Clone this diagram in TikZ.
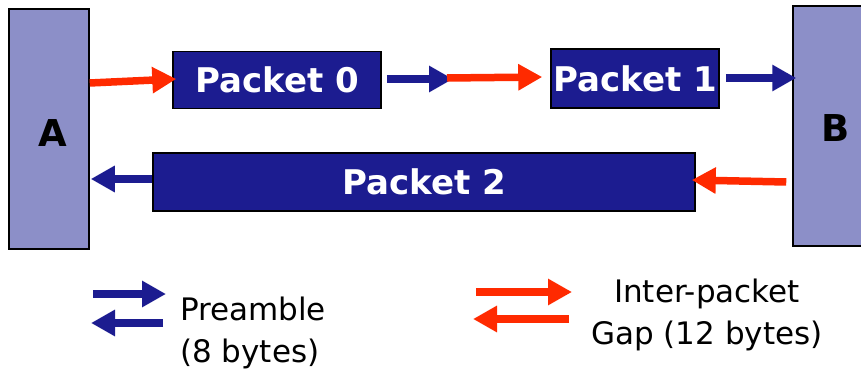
\documentclass[tikz,border=0pt]{standalone}
\usepackage{fontspec}
\setmainfont{DejaVu Sans}
\usetikzlibrary{arrows.meta}
\definecolor{hostfill}{HTML}{8C8FC8}
\definecolor{navy}{HTML}{1C1C90}
\definecolor{gapred}{HTML}{FF2A00}
\tikzset{
  hostbox/.style={draw=black, line width=1.5pt, fill=hostfill, inner sep=0pt},
  pktbox/.style={draw=black, line width=1.5pt, fill=navy, inner sep=0pt, text=white,
    font=\fontsize{34}{34}\selectfont\bfseries},
  hostlabel/.style={font=\fontsize{37}{37}\selectfont\bfseries, text=black},
  legendtext/.style={font=\fontsize{31}{42}\selectfont, text=black, inner sep=0pt},
  arr/.style={line width=7.5pt, -{Triangle[length=24pt,width=25pt]}},
  pre/.style={arr, draw=navy},
  gap/.style={arr, draw=gapred},
}
\begin{document}
\begin{tikzpicture}[x=1pt,y=-1pt]
\useasboundingbox (0,0) rectangle (861,379);
% hosts
\node[hostbox, minimum width=80pt, minimum height=240pt] (A) at (49,129) {};
\node[hostbox, minimum width=75pt, minimum height=240pt] (B) at (830.5,126) {};
\node[hostlabel] (Alab) at (53,133) {A};
\node[hostlabel] (Blab) at (836,128) {B};
% packets
\node[pktbox, minimum width=208pt, minimum height=57pt] (p0) at (277,80) {Packet 0};
\node[pktbox, minimum width=168pt, minimum height=59pt] (p1) at (635,78.5) {Packet 1};
\node[pktbox, minimum width=542pt, minimum height=58pt] (p2) at (424,182) {Packet 2};
% gap coordinates
\coordinate (g0) at (453,79);
\coordinate (g1) at (447,78);
% arrows, top row
\draw[gap] (A.east |- 0,83) -- ([xshift=4pt]p0.west |- 0,79);
\draw[pre] ([xshift=5pt]p0.east |- 0,79) -- (g0);
\draw[gap] (g1) -- ([xshift=-8pt]p1.west |- 0,77);
\draw[pre] ([xshift=6pt]p1.east |- 0,78) -- ([xshift=4pt]B.west |- 0,78);
% arrows, bottom row
\draw[pre] (p2.west |- 0,179) -- ([xshift=1pt]A.east |- 0,179);
\draw[gap] ([xshift=-6pt]B.west |- 0,182) -- ([xshift=-4pt]p2.east |- 0,180);
% legend
\coordinate (lb1s) at (93,294);
\coordinate (lb1e) at (166,294);
\coordinate (lb2s) at (163,323);
\coordinate (lb2e) at (91,323);
\draw[pre] (lb1s) -- (lb1e);
\draw[pre] (lb2s) -- (lb2e);
\node[legendtext, anchor=west, align=left] (pretext) at (180,333) {Preamble\\(8 bytes)};
\coordinate (lr1s) at (476,292);
\coordinate (lr1e) at (572,292);
\coordinate (lr2s) at (569,319);
\coordinate (lr2e) at (473,319);
\draw[gap] (lr1s) -- (lr1e);
\draw[gap] (lr2s) -- (lr2e);
\node[legendtext, align=center] (gaptext) at (707,315) {Inter-packet\\Gap (12 bytes)};
\end{tikzpicture}
\end{document}
